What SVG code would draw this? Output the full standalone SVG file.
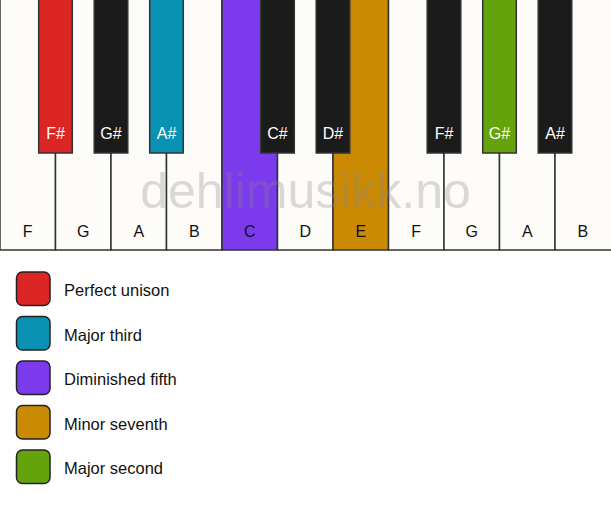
<svg xmlns="http://www.w3.org/2000/svg" width="611" height="506" viewBox="0 0 611 506">
<style>
.w{fill:#fdfcf9;stroke:#333;stroke-width:1.5}
.b{fill:#1b1b1b;stroke:#333;stroke-width:1.5}
.wl{font-family:"Liberation Sans",Arial,sans-serif;font-size:16px;fill:#111;text-anchor:middle}
.bl{font-family:"Liberation Sans",Arial,sans-serif;font-size:16px;fill:#fff;text-anchor:middle}
.lg{stroke:#222;stroke-width:1.5}
.lt{font-family:"Liberation Sans",Arial,sans-serif;font-size:16.5px;fill:#111}
.wm{font-family:"Liberation Sans",Arial,sans-serif;font-size:50px;fill:#888;opacity:0.3;text-anchor:middle}
</style>
<rect width="611" height="506" fill="#fff"/>
<g id="white-keys">
<g id="wk-F1"><rect class="w" x="0" y="-2" width="55.5" height="252"/><text class="wl" x="27.75" y="237">F</text></g>
<g id="wk-G1"><rect class="w" x="55.5" y="-2" width="55.5" height="252"/><text class="wl" x="83.25" y="237">G</text></g>
<g id="wk-A1"><rect class="w" x="111" y="-2" width="55.5" height="252"/><text class="wl" x="138.75" y="237">A</text></g>
<g id="wk-B1"><rect class="w" x="166.5" y="-2" width="55.5" height="252"/><text class="wl" x="194.25" y="237">B</text></g>
<g id="wk-C"><rect class="w" x="222" y="-2" width="55.5" height="252" style="fill:#7c3aed"/><text class="wl" x="249.75" y="237">C</text></g>
<g id="wk-D"><rect class="w" x="277.5" y="-2" width="55.5" height="252"/><text class="wl" x="305.25" y="237">D</text></g>
<g id="wk-E"><rect class="w" x="333" y="-2" width="55.5" height="252" style="fill:#ca8a04"/><text class="wl" x="360.75" y="237">E</text></g>
<g id="wk-F2"><rect class="w" x="388.5" y="-2" width="55.5" height="252"/><text class="wl" x="416.25" y="237">F</text></g>
<g id="wk-G2"><rect class="w" x="444" y="-2" width="55.5" height="252"/><text class="wl" x="471.75" y="237">G</text></g>
<g id="wk-A2"><rect class="w" x="499.5" y="-2" width="55.5" height="252"/><text class="wl" x="527.25" y="237">A</text></g>
<g id="wk-B2"><rect class="w" x="555" y="-2" width="57" height="252"/><text class="wl" x="582.75" y="237">B</text></g>
</g>
<g id="black-keys">
<g id="bk-Fs1"><rect class="b" x="38.7" y="-2" width="33.6" height="155" style="fill:#dc2626"/><text class="bl" x="55.5" y="138.5">F#</text></g>
<g id="bk-Gs1"><rect class="b" x="94.2" y="-2" width="33.6" height="155"/><text class="bl" x="111" y="138.5">G#</text></g>
<g id="bk-As1"><rect class="b" x="149.7" y="-2" width="33.6" height="155" style="fill:#0891b2"/><text class="bl" x="166.5" y="138.5">A#</text></g>
<g id="bk-Cs"><rect class="b" x="260.7" y="-2" width="33.6" height="155"/><text class="bl" x="277.5" y="138.5">C#</text></g>
<g id="bk-Ds"><rect class="b" x="316.2" y="-2" width="33.6" height="155"/><text class="bl" x="333" y="138.5">D#</text></g>
<g id="bk-Fs2"><rect class="b" x="427.2" y="-2" width="33.6" height="155"/><text class="bl" x="444" y="138.5">F#</text></g>
<g id="bk-Gs2"><rect class="b" x="482.7" y="-2" width="33.6" height="155" style="fill:#65a30d"/><text class="bl" x="499.5" y="138.5">G#</text></g>
<g id="bk-As2"><rect class="b" x="538.2" y="-2" width="33.6" height="155"/><text class="bl" x="555" y="138.5">A#</text></g>
</g>
<text class="wm" x="305.5" y="208">dehlimusikk.no</text>
<g id="legend">
<g id="lg-unison"><rect class="lg" x="16.5" y="272" width="33.5" height="33.5" rx="6" fill="#dc2626"/><text class="lt" x="64" y="296">Perfect unison</text></g>
<g id="lg-third"><rect class="lg" x="16.5" y="316.5" width="33.5" height="33.5" rx="6" fill="#0891b2"/><text class="lt" x="64" y="340.5">Major third</text></g>
<g id="lg-fifth"><rect class="lg" x="16.5" y="361" width="33.5" height="33.5" rx="6" fill="#7c3aed"/><text class="lt" x="64" y="385">Diminished fifth</text></g>
<g id="lg-seventh"><rect class="lg" x="16.5" y="405.5" width="33.5" height="33.5" rx="6" fill="#ca8a04"/><text class="lt" x="64" y="429.5">Minor seventh</text></g>
<g id="lg-second"><rect class="lg" x="16.5" y="450" width="33.5" height="33.5" rx="6" fill="#65a30d"/><text class="lt" x="64" y="474">Major second</text></g>
</g>
<g id="connectors"/>
</svg>
